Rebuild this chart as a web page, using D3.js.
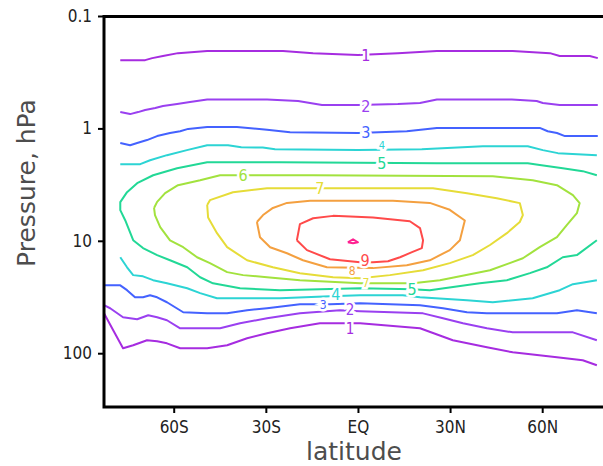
<!DOCTYPE html>
<html lang="en">
<head>
<meta charset="UTF-8">
<title>Ozone cross-section</title>
<script src="https://d3js.org/d3.v7.min.js"></script>
<style>
  body { margin: 0; background: #fff; }
  svg { display: block; }
</style>
</head>
<body>
<div id="chart"></div>
<script>
// contour levels and their colours
const levels = [1, 2, 3, 4, 5, 6, 7, 8, 9, 10];
const levelColors = ["#a62ce0", "#9a40f0", "#4462ff", "#2cd4d4", "#22d896",
                     "#a2e23e", "#e6dc38", "#f4a040", "#ff4a4a", "#ff2090"];

// contour lines: [latitude, pressure hPa]
const c1Upper = [[-77.4,0.247],[-69.3,0.247],[-67,0.237],[-63.5,0.227],[-58.6,0.214],[-49.1,0.205],[-24.4,0.205],[-14.6,0.214],[0,0.222],[13,0.214],[25.7,0.205],[50.4,0.205],[62.5,0.214],[65.7,0.227],[75.5,0.227],[78.1,0.237]];
const c1Lower = [[-82.7,44.2],[-79.7,62.5],[-76.5,90.4],[-73.2,85.0],[-68.7,76.7],[-65.4,78.4],[-62.2,81.7],[-57.9,90.4],[-49.1,90.4],[-42.6,85.0],[-36.1,73.6],[-29.6,66.5],[-22.1,60.0],[-12.4,54.2],[0.7,54.2],[20.2,60.0],[30.9,76.7],[42.0,88.6],[50.4,98.2],[64.8,108.7],[73.2,115.6],[77.8,128]];
const c2Upper = [[-77.4,0.716],[-74.2,0.746],[-71.6,0.716],[-69.3,0.687],[-66,0.659],[-63.5,0.633],[-58.9,0.608],[-54.7,0.583],[-49.1,0.554],[-29.6,0.554],[-19.5,0.571],[-11.7,0.62],[0,0.62],[13,0.608],[20.2,0.595],[25.7,0.554],[50.1,0.554],[58.2,0.571],[60.2,0.595],[65.7,0.62],[78.1,0.62]];
const c2Lower = [[-82.7,37.4],[-80.7,39.8],[-76.5,47.9],[-71.9,49.9],[-68.3,46.0],[-65.4,47.9],[-62.2,50.9],[-57.9,60.0],[-44.9,60.0],[-38.4,54.2],[-29.6,48.9],[-18.9,44.2],[-5.9,41.5],[0.7,42.4],[21.2,44.2],[27.7,48.9],[34.2,54.2],[42.0,60.0],[50.4,65.2],[70.0,65.2],[77.8,76.7]];
const c3Upper = [[-77.4,1.35],[-74.2,1.41],[-71.9,1.35],[-68.7,1.27],[-65.4,1.17],[-61.2,1.10],[-57.9,1.06],[-55.3,1.01],[-49.1,0.973],[-39.4,0.973],[-34,1.0],[-29.6,1.03],[-22.1,1.08],[0,1.10],[15.9,1.06],[25.7,0.99],[59.2,0.99],[61.8,1.06],[64.8,1.10],[67.4,1.17],[78.1,1.17]];
const c3Lower = [[-82.7,24.9],[-77.4,24.9],[-75.2,27.5],[-72.6,31.8],[-70.0,31.8],[-67.7,30.5],[-65.4,31.8],[-62.2,35.2],[-56.9,43.2],[-49.1,44.2],[-42.6,44.2],[-36.1,41.5],[-29.6,39.8],[-18.9,36.7],[-9.1,36.7],[0.7,36.0],[20.2,37.4],[27.7,39.8],[35.5,43.2],[42.0,44.2],[64.8,44.2],[71.3,41.5],[77.8,44.2]];
const c4Upper = [[-77.4,2.08],[-70.9,2.08],[-67.7,1.92],[-62.2,1.73],[-55.7,1.56],[-49.1,1.41],[-42.3,1.41],[-38,1.47],[-31,1.48],[-27,1.53],[0,1.56],[20.8,1.53],[40.7,1.44],[55.3,1.44],[60.2,1.56],[65.1,1.66],[77.8,1.73]];
const c4Lower = [[-77.4,14.0],[-75.2,17.2],[-73.2,20.2],[-70.0,20.7],[-66.7,22.4],[-62.2,23.9],[-55.6,26.4],[-51.4,29.2],[-45.9,32.4],[-25.4,32.4],[-9.1,31.1],[0.7,30.5],[14.6,30.5],[20.2,31.8],[35.5,33.8],[43.9,35.2],[56.9,32.4],[65.7,27.5],[70.0,24.3],[77.8,22.4]];
const c5 = [[77.8,2.61],[73.2,2.4],[66.7,2.26],[59.2,2.12],[55.3,2.04],[25.7,2.04],[-25.4,2.0],[-49.1,2.0],[-58.9,2.26],[-66.7,2.61],[-71.9,3.07],[-75.2,3.69],[-77.4,4.53],[-77.4,5.34],[-75.8,6.56],[-73.2,9.88],[-70.0,11.6],[-65.4,13.4],[-61.2,14.9],[-55.6,17.2],[-51.4,21.1],[-47.2,23.9],[-38.4,26.4],[-25.4,27.5],[-12.4,27.0],[0.7,26.4],[17.6,27.0],[23.4,27.5],[39.7,23.9],[48.5,22.4],[56.0,19.4],[61.5,17.2],[66.7,14.0],[71.3,13.4],[77.8,9.88]];
const c6 = [[-66.4,5.1],[-65.4,4.5],[-62.8,3.77],[-58.6,3.2],[-51.4,2.89],[-44.9,2.61],[-14.6,2.61],[43.9,2.66],[56.9,2.89],[64.8,3.2],[70.0,3.93],[72.2,4.62],[71.3,5.68],[68.0,7.26],[64.8,9.29],[59.2,11.4],[53.7,14.3],[43.0,18.3],[26.7,22.4],[17.9,23.9],[0.7,23.9],[-18.9,22.4],[-29.6,21.1],[-37.4,20.2],[-42.6,19.0],[-48.2,15.8],[-52.4,14.0],[-56.9,11.4],[-61.2,9.9],[-64.4,7.57],[-66.1,5.9],[-66.4,5.1]];
const c7 = [[-49.1,4.8],[-48.2,4.35],[-40.7,3.7],[-29.6,3.4],[24.4,3.4],[35.5,3.77],[45.2,4.18],[52.7,4.62],[53.7,5.9],[52.7,6.8],[48.5,8.55],[43.0,10.9],[37.4,13.4],[29.9,15.8],[21.2,18.3],[10.4,20.2],[0.7,21.5],[-8.1,21.1],[-18.9,19.4],[-27.7,17.2],[-36.1,14.9],[-42.6,11.4],[-45.9,8.55],[-48.8,6.2],[-49.1,4.8]];
const c8 = [[-32.9,6.8],[-30.9,5.9],[-27.7,5.1],[-23.1,4.6],[-15.6,4.4],[11.4,4.4],[23.4,4.6],[29.9,5.3],[34.8,6.6],[33.2,9.9],[29.9,12.1],[23.4,14.9],[15.9,16.5],[4.9,17.5],[-10.1,17.2],[-17.9,14.9],[-23.1,12.9],[-28.6,11.4],[-31.9,9.3],[-32.9,6.8]];
const c9 = [[-19.9,9.9],[-18.9,7.1],[-14.6,6.3],[-8.1,6.0],[4.9,6.2],[16.9,6.7],[20.2,7.7],[21.2,9.9],[20.8,11.6],[17.6,12.6],[13.7,14.0],[9.8,15.2],[4.9,15.5],[0.7,15.5],[-9.1,14.6],[-16.6,12.1],[-19.9,9.9]];
const c10 = [[-3.3,10.3],[-1.6,9.7],[0,10.3],[-1.6,10.5],[-3.3,10.3]];

const contourLines = [
  {level: 1, pts: c1Upper}, {level: 1, pts: c1Lower},
  {level: 2, pts: c2Upper}, {level: 2, pts: c2Lower},
  {level: 3, pts: c3Upper}, {level: 3, pts: c3Lower},
  {level: 4, pts: c4Upper}, {level: 4, pts: c4Lower},
  {level: 5, pts: c5}, {level: 6, pts: c6}, {level: 7, pts: c7},
  {level: 8, pts: c8}, {level: 9, pts: c9}, {level: 10, pts: c10}
];

// contour labels; crowded ones are smaller, as in the original they are half hidden
const labelLevel = [1, 2, 3, 4, 5, 6, 7, 9, 8, 7, 5, 4, 3, 2, 1];
const labelLat   = [2.6, 2.6, 2.6, 7.8, 7.8, -37.4, -12.4, 2.3, -1.9, 2.6, 17.6, -7.2, -11.3, -2.6, -2.6];
const labelPres  = [0.222, 0.633, 1.08, 1.42, 2.04, 2.61, 3.40, 14.9, 18.3, 23.6, 27.0, 29.8, 37.0, 41.0, 61.0];
const labelSize  = [16, 16, 16, 11, 16, 16, 16, 16, 12, 12, 16, 16, 12, 15, 15];

// axes
const yTicks = [0.1, 1, 10, 100];
const yTickLabels = ["0.1", "1", "10", "100"];
const xTicks = [-60, -30, 0, 30, 60];
const xTickLabels = ["60S", "30S", "EQ", "30N", "60N"];

const W = 603, H = 466;
const x = d3.scaleLinear().domain([-82.7, 79.8]).range([104, 603]);
const y = d3.scaleLog().domain([0.1, 301]).range([16, 407]);

const svg = d3.select("#chart").append("svg")
    .attr("width", W).attr("height", H);

const line = d3.line().x(d => x(d[0])).y(d => y(d[1]));
const color = lv => levelColors[levels.indexOf(lv)];

svg.append("g")
  .selectAll("path")
  .data(contourLines)
  .join("path")
    .attr("d", d => line(d.pts))
    .attr("fill", "none")
    .attr("stroke", d => color(d.level))
    .attr("stroke-width", 2)
    .attr("stroke-linejoin", "round");

const labels = labelLevel.map((lv, i) => ({lv, lat: labelLat[i], p: labelPres[i], size: labelSize[i]}));
svg.append("g")
  .selectAll("text")
  .data(labels)
  .join("text")
    .attr("x", d => x(d.lat))
    .attr("y", d => y(d.p))
    .attr("dy", "0.36em")
    .attr("text-anchor", "middle")
    .attr("font-family", "DejaVu Sans Condensed, DejaVu Sans")
    .attr("font-size", d => d.size)
    .attr("fill", d => color(d.lv))
    .attr("stroke", "#fff")
    .attr("stroke-width", 5)
    .attr("paint-order", "stroke")
    .text(d => d.lv);

// y axis
const yAxis = svg.append("g")
    .attr("transform", "translate(104,0)")
    .call(d3.axisLeft(y).tickValues(yTicks)
      .tickFormat((d, i) => yTickLabels[i]).tickSize(6).tickPadding(6));
// x axis
const xAxis = svg.append("g")
    .attr("transform", "translate(0,407)")
    .call(d3.axisBottom(x).tickValues(xTicks)
      .tickFormat((d, i) => xTickLabels[i]).tickSize(6).tickPadding(8));

[yAxis, xAxis].forEach(g => {
  g.select(".domain").remove();
  g.selectAll(".tick line").attr("stroke", "#000").attr("stroke-width", 2);
  g.selectAll(".tick text")
    .attr("font-family", "DejaVu Sans Condensed, DejaVu Sans")
    .attr("font-size", 17)
    .attr("fill", "#222");
});

// frame: thick left, bottom and top lines
svg.append("path")
    .attr("d", `M603,16.5H104V407H603`)
    .attr("fill", "none")
    .attr("stroke", "#000")
    .attr("stroke-width", 3);

// axis titles
svg.append("text")
    .attr("transform", "translate(35,183) rotate(-90)")
    .attr("text-anchor", "middle")
    .attr("font-family", "DejaVu Sans")
    .attr("font-size", 25)
    .attr("fill", "#4d4d4d")
    .text("Pressure, hPa");

svg.append("text")
    .attr("x", 354)
    .attr("y", 460)
    .attr("text-anchor", "middle")
    .attr("font-family", "DejaVu Sans")
    .attr("font-size", 25)
    .attr("fill", "#4d4d4d")
    .text("latitude");
</script>
</body>
</html>
